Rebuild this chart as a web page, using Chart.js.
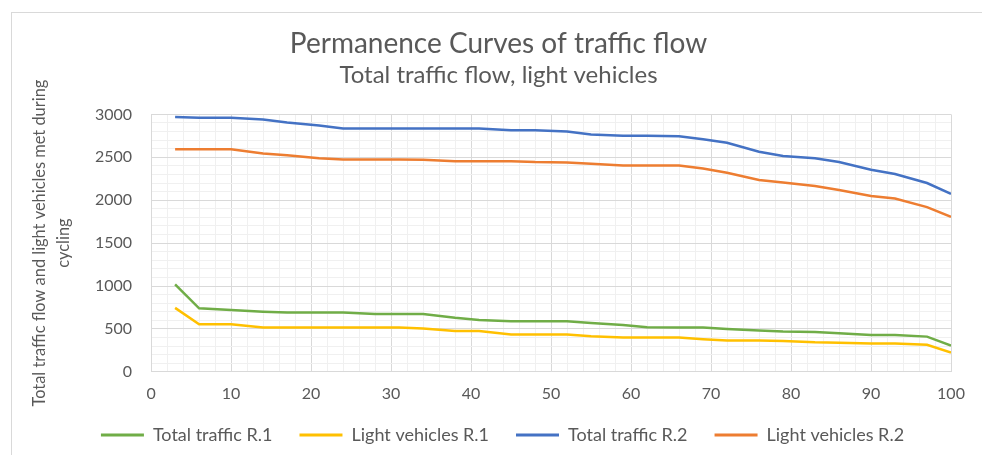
<!DOCTYPE html>
<html>
<head>
<meta charset="utf-8">
<script src="https://cdn.jsdelivr.net/npm/chart.js@4.4.1/dist/chart.umd.min.js"></script>
<style>
  html, body { margin: 0; padding: 0; background: #fff; }
  #wrap { position: relative; width: 982px; height: 455px; overflow: hidden; }
  #frame { position: absolute; left: 11px; top: 12px; width: 1000px; height: 500px;
           border-left: 1px solid #d9d9d9; border-top: 1px solid #d9d9d9; }
  canvas { position: absolute; left: 0; top: 0; }
</style>
</head>
<body>
<div id="wrap">
  <div id="frame"></div>
  <canvas id="lineChart" width="982" height="455"></canvas>
</div>
<script>
// percentage of time (x axis)
var xPct = [3, 6, 10, 14, 17, 21, 24, 28, 31, 34, 38, 41, 45, 48, 52, 55, 59, 62, 66, 69, 72, 76, 79, 83, 86, 90, 93, 97, 100];

// series values
var totalR1 = [1020, 740, 720, 700, 690, 690, 690, 675, 675, 675, 630, 605, 590, 590, 590, 570, 545, 520, 515, 515, 500, 480, 470, 465, 450, 430, 430, 410, 305];
var lightR1 = [745, 555, 555, 515, 515, 515, 515, 515, 515, 505, 475, 475, 435, 435, 435, 415, 400, 400, 400, 380, 365, 365, 360, 345, 340, 330, 330, 315, 225];
var totalR2 = [2970, 2960, 2960, 2940, 2905, 2870, 2835, 2835, 2835, 2835, 2835, 2835, 2815, 2815, 2800, 2765, 2750, 2750, 2745, 2710, 2670, 2565, 2515, 2490, 2445, 2355, 2305, 2200, 2075];
var lightR2 = [2595, 2595, 2595, 2545, 2525, 2490, 2475, 2475, 2475, 2470, 2455, 2455, 2455, 2445, 2440, 2425, 2405, 2405, 2405, 2370, 2320, 2235, 2205, 2165, 2120, 2050, 2020, 1920, 1805];

var seriesNames = ["Total traffic R.1", "Light vehicles R.1", "Total traffic R.2", "Light vehicles R.2"];
var seriesColors = ["#70AD47", "#FFC000", "#4472C4", "#ED7D31"];

var xTickLabels = [0, 10, 20, 30, 40, 50, 60, 70, 80, 90, 100];
var yTickLabels = [0, 500, 1000, 1500, 2000, 2500, 3000];

function pts(vals) {
  return vals.map(function (v, i) { return { x: xPct[i], y: v }; });
}

var allSeries = [totalR1, lightR1, totalR2, lightR2];
var datasets = allSeries.map(function (vals, i) {
  return {
    label: seriesNames[i],
    data: pts(vals),
    borderColor: seriesColors[i],
    backgroundColor: seriesColors[i],
    borderWidth: 2.5,
    pointRadius: 0,
    tension: 0
  };
});

var textGray = '#595959';
Chart.defaults.font.family = 'Lato, "Open Sans", sans-serif';
Chart.defaults.color = textGray;

// legend sits closer to the x labels than its item padding would allow,
// and the Excel chart centres title + legend a bit right of the canvas middle
var LEGEND_PULL = 16;
var nudgeBoxes = {
  id: 'nudgeBoxes',
  beforeLayout: function (chart) {
    var lg = chart.legend;
    if (lg && !lg._pulled) {
      var fit = lg.fit;
      lg.fit = function () { fit.call(this); this.height -= LEGEND_PULL; };
      lg._pulled = true;
    }
  },
  afterLayout: function (chart) {
    chart.boxes.forEach(function (b) {
      if (b === chart.legend) {
        b.left += 21; b.right += 21;
        b.top -= LEGEND_PULL;
      } else if (b.position === 'top') {
        b.left += 17; b.right += 17;
      }
    });
  }
};

var ctxL = document.getElementById("lineChart").getContext('2d');
var myLineChart = new Chart(ctxL, {
  type: 'line',
  data: { datasets: datasets },
  plugins: [nudgeBoxes],
  options: {
    responsive: false,
    animation: false,
    layout: { padding: { left: 12, right: 31, top: 14, bottom: 1 } },
    plugins: {
      title: {
        display: true,
        text: 'Permanence Curves of traffic flow',
        color: textGray,
        font: { size: 28, weight: 'normal' },
        padding: { top: 13, bottom: 0 }
      },
      subtitle: {
        display: true,
        text: 'Total traffic flow, light vehicles',
        color: textGray,
        font: { size: 24, weight: 'normal' },
        padding: { top: 0, bottom: 25 }
      },
      legend: {
        position: 'bottom',
        labels: {
          boxWidth: 43,
          boxHeight: 3,
          padding: 27,
          color: textGray,
          font: { size: 18 },
          generateLabels: function (chart) {
            var items = Chart.defaults.plugins.legend.labels.generateLabels(chart);
            items.forEach(function (it) { it.lineWidth = 0; });
            return items;
          }
        }
      },
      tooltip: { enabled: false }
    },
    scales: {
      x: {
        type: 'linear',
        min: 0,
        max: 100,
        border: { color: '#d9d9d9' },
        grid: {
          drawTicks: false,
          color: function (c) { return c.tick.value % 10 === 0 ? '#d9d9d9' : '#f0f0f0'; }
        },
        ticks: {
          stepSize: 2,
          autoSkip: false,
          maxRotation: 0,
          padding: 12,
          font: { size: 16 },
          callback: function (v) { return xTickLabels.indexOf(v) >= 0 ? String(v) : ''; }
        }
      },
      y: {
        min: 0,
        max: 3000,
        border: { color: '#d9d9d9' },
        grid: {
          drawTicks: false,
          color: function (c) { return c.tick.value % 500 === 0 ? '#d9d9d9' : '#f0f0f0'; }
        },
        ticks: {
          stepSize: 100,
          autoSkip: false,
          padding: 19,
          font: { size: 16 },
          callback: function (v) { return yTickLabels.indexOf(v) >= 0 ? String(v) : ''; }
        },
        title: {
          display: true,
          text: ['Total traffic flow and light vehicles met during', 'cycling'],
          color: textGray,
          font: { size: 16.4, lineHeight: 1.463 },
          padding: { top: 16, bottom: 0 }
        }
      }
    }
  }
});
</script>
</body>
</html>
